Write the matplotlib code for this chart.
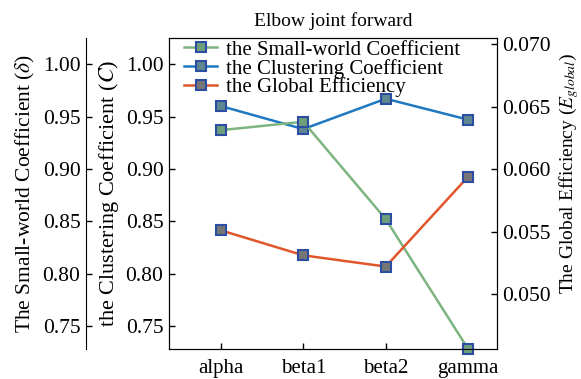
import numpy as np
import matplotlib
matplotlib.use("Agg")
import matplotlib.pyplot as plt

plt.rcParams['font.family'] = ['Liberation Serif', 'DejaVu Serif']
plt.rcParams['mathtext.fontset'] = 'stix'

bands = ['alpha', 'beta1', 'beta2', 'gamma']
small_world = [0.937, 0.945, 0.852, 0.728]
clustering = [0.960, 0.938, 0.967, 0.947]
global_eff = [0.0551, 0.0531, 0.0522, 0.0594]

c_green = '#7db47f'
c_blue = '#1f78c0'
c_red = '#e0562a'
edge = '#2b4ea3'

fig = plt.figure(figsize=(5.81, 3.79), dpi=100)
ax = fig.add_axes([169/581, 1-349/379, (497-169)/581, (349-38)/379])
ax_sw = ax.twinx()
ax_ge = ax.twinx()

# outer left axis for the small-world coefficient (offset in points)
ax_sw.spines['left'].set_position(('outward', 83 * 0.72))
ax_sw.spines['left'].set_visible(True)
ax_sw.spines['right'].set_visible(False)
ax_sw.spines['top'].set_visible(False)
ax_sw.spines['bottom'].set_visible(False)
ax_sw.yaxis.set_label_position('left')
ax_sw.yaxis.set_ticks_position('left')

x = np.arange(len(bands))
mk = dict(marker='s', markersize=7, markeredgecolor=edge, markeredgewidth=1.5, lw=1.8)
l1, = ax_sw.plot(x, small_world, color=c_green, markerfacecolor='#6f9f7a',
                 label='the Small-world Coefficient', **mk)
l2, = ax.plot(x, clustering, color=c_blue, markerfacecolor='#5f8790',
              label='the Clustering Coefficient', **mk)
l3, = ax_ge.plot(x, global_eff, color=c_red, markerfacecolor='#767676',
                 label='the Global Efficiency', **mk)
for l in (l1, l2, l3):
    l.set_clip_on(False)

ax.set_xlim(-0.63, 3.35)
ax.set_ylim(0.728, 1.025)
ax_sw.set_ylim(0.728, 1.025)
ax_ge.set_ylim(0.0456, 0.0705)

ticks = [0.75, 0.80, 0.85, 0.90, 0.95, 1.00]
ax.set_yticks(ticks)
ax_sw.set_yticks(ticks)
ax.set_yticklabels(['%.2f' % t for t in ticks])
ax_sw.set_yticklabels(['%.2f' % t for t in ticks])
ge_ticks = [0.050, 0.055, 0.060, 0.065, 0.070]
ax_ge.set_yticks(ge_ticks)
ax_ge.set_yticklabels(['%.3f' % t for t in ge_ticks])
ax.set_xticks(x)
ax.set_xticklabels(bands)

for a in (ax, ax_sw, ax_ge):
    a.tick_params(direction='in', labelsize=15.5, length=4, width=1, pad=4)
ax.tick_params(axis='x', labelsize=15, pad=7)

ax_sw.set_ylabel('The Small-world Coefficient ($\\delta$)', fontsize=15.5, labelpad=4)
ax.set_ylabel('the Clustering Coefficient ($C$)', fontsize=16, labelpad=3)
ax_ge.set_ylabel('The Global Efficiency ($E_{global}$)', fontsize=14,
                 va='center', ha='center')
ax_ge.yaxis.set_label_coords(1.22, 0.565)
ax.set_title('Elbow joint forward', fontsize=14, pad=9)

ax.legend(handles=[l1, l2, l3], loc='upper left', frameon=False, fontsize=15,
          handlelength=1.6, handletextpad=0.4, labelspacing=-0.05,
          borderaxespad=0.0, bbox_to_anchor=(0.02, 1.02))

fig.savefig('out.png', dpi=100)
